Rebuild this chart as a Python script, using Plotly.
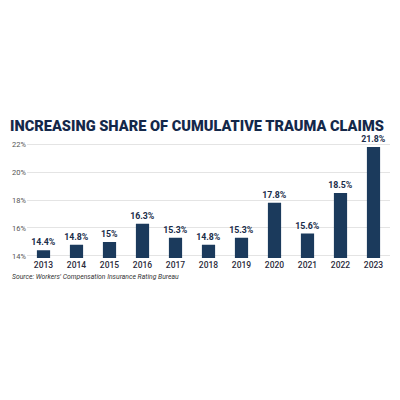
import plotly.graph_objects as go

years = ["2013", "2014", "2015", "2016", "2017", "2018", "2019", "2020", "2021", "2022", "2023"]
shares = [14.4, 14.8, 15.0, 16.3, 15.3, 14.8, 15.3, 17.8, 15.6, 18.5, 21.8]
y_ticks = [14, 16, 18, 20, 22]

navy = "#1b3a5c"
labels = [f"{v:g}%" for v in shares]

fig = go.Figure(go.Bar(
    x=years, y=shares, text=labels, textposition="outside",
    constraintext="none", textangle=0,
    textfont=dict(family="Roboto", size=8.8, color="#1a2d4a", weight="bold"),
    marker=dict(color=navy, line=dict(width=0)),
    cliponaxis=False,
))

fig.update_layout(
    width=400, height=400,
    margin=dict(l=19, r=18, t=132, b=150, autoexpand=False),
    paper_bgcolor="white", plot_bgcolor="white",
    bargap=0.6,
    showlegend=False,
    title=dict(text="INCREASING SHARE OF CUMULATIVE TRAUMA CLAIMS",
               x=0.005, xanchor="left", xref="container",
               y=1 - 118 / 400, yanchor="middle", yref="container",
               font=dict(family="Roboto", size=14.6, color="#14284a", weight=900)),
    xaxis=dict(type="category", showgrid=False, showline=False, ticks="",
               automargin=False,
               tickfont=dict(family="Roboto", size=8.5, color="#2a2a3a", weight=500)),
    yaxis=dict(range=[13.85, 22.3], tickvals=y_ticks,
               ticktext=[f"{t}%" for t in y_ticks],
               showgrid=True, gridcolor="#e4e4e4", gridwidth=1,
               zeroline=False, showline=False, ticks="", automargin=False,
               tickfont=dict(family="Roboto", size=7.5, color="#555555")),
    annotations=[dict(text="<i>Source: Workers' Compensation Insurance Rating Bureau</i>",
                      xref="paper", yref="paper", x=-0.047, y=-0.163,
                      xanchor="left", yanchor="middle", showarrow=False,
                      font=dict(family="Roboto", size=6.8, color="#333333"))],
)

fig.write_html("out.html")
